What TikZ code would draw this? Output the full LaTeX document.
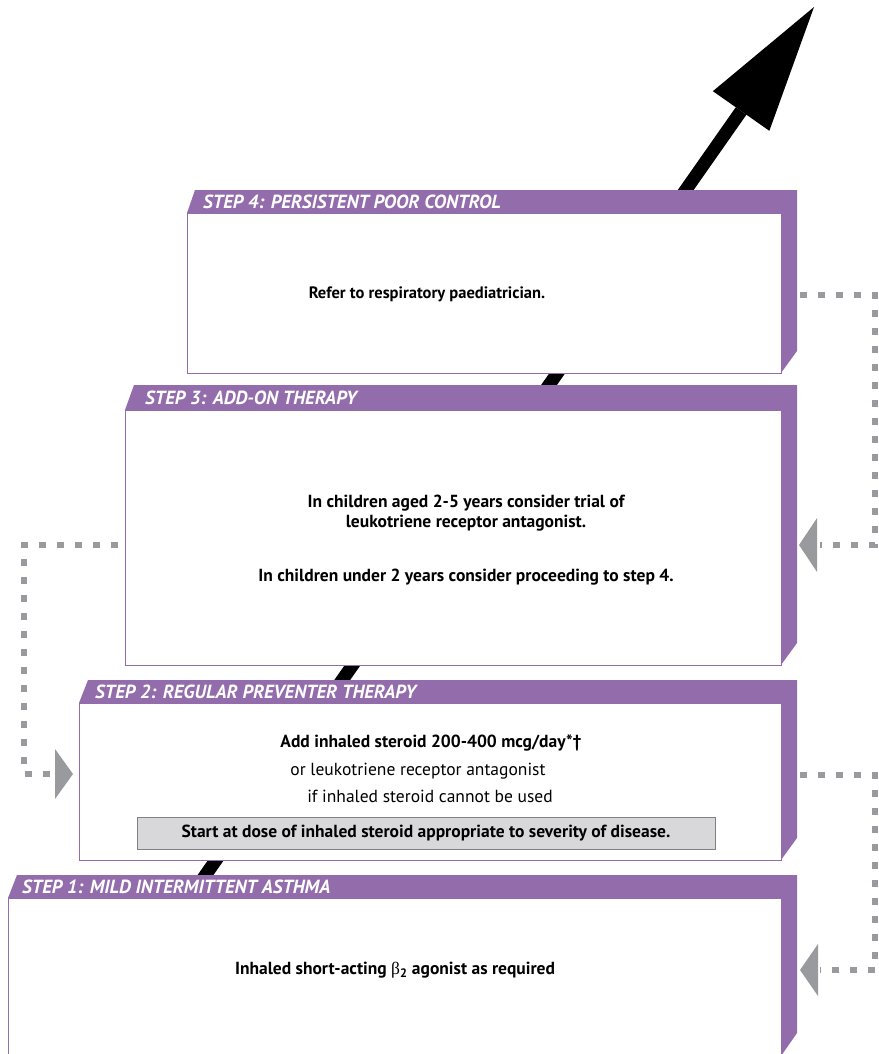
\documentclass[tikz,border=0pt]{standalone}
\usepackage{fontspec}
\setmainfont{PT Sans}
\newfontfamily\greekfont{Liberation Serif}
\usetikzlibrary{arrows.meta}

\definecolor{steppurple}{RGB}{147,108,172}
\definecolor{dotgrey}{RGB}{152,154,157}
\definecolor{notegrey}{RGB}{216,216,218}

\tikzset{
  bodybox/.style={draw=steppurple, line width=1.2pt, fill=white, anchor=north west, inner sep=0pt},
  steplabel/.style={anchor=west, inner sep=0pt, text=white, font=\fontsize{19}{20}\selectfont\bfseries\itshape},
  bodytext/.style={align=center, inner sep=0pt, font=\fontsize{17.5}{20}\selectfont\bfseries},
  plaintext/.style={inner sep=0pt, font=\fontsize{17.5}{20}\selectfont},
  dotline/.style={draw=dotgrey, line width=5.5pt, dash pattern=on 7pt off 11pt},
  dothead/.style={fill=dotgrey},
}

\begin{document}
\begin{tikzpicture}[x=1pt, y=-1pt]
    \useasboundingbox (0,0) rectangle (878,1054);

    % big arrow, behind the steps
    \coordinate (arrowfoot) at (195,890);
    \coordinate (arrowtip) at (814,7);
    \draw[line width=13pt, -{Triangle[length=127pt, width=69pt, line width=0pt]}] (arrowfoot) -- (arrowtip);

    % step 4
    \fill[steppurple] (195,190) -- (797,190) -- (797,351) -- (781,373) -- (781,213) -- (187,213) -- cycle;
    \node[bodybox, minimum width=594pt, minimum height=160pt] (step4) at (187,213) {};
    \node[steplabel] (step4head) at (203,202) {STEP 4: PERSISTENT POOR CONTROL};
    \node[bodytext, font=\fontsize{16.5}{20}\selectfont\bfseries] (step4text) at (427,294) {Refer to respiratory paediatrician.};

    % step 3
    \fill[steppurple] (134,385) -- (797,385) -- (797,643) -- (781,665) -- (781,410) -- (125,410) -- cycle;
    \node[bodybox, minimum width=656pt, minimum height=255pt] (step3) at (125,410) {};
    \node[steplabel] (step3head) at (145,398) {STEP 3: ADD-ON THERAPY};
    \node[bodytext] (step3text) at (466,540) {In children aged 2-5 years consider trial of\\
        leukotriene receptor antagonist.\\[34pt]
        In children under 2 years consider proceeding to step 4.};

    % step 2
    \fill[steppurple] (88,680) -- (797,680) -- (797,838) -- (781,860) -- (781,703) -- (79,703) -- cycle;
    \node[bodybox, minimum width=702pt, minimum height=157pt] (step2) at (79,703) {};
    \node[steplabel] (step2head) at (95,692) {STEP 2: REGULAR PREVENTER THERAPY};
    \node[bodytext] (step2text) at (431,743) {Add inhaled steroid 200-400 mcg/day*\textdagger};
    \node[plaintext] (step2alt) at (418,771) {or leukotriene receptor antagonist};
    \node[plaintext] (step2if) at (430,796) {if inhaled steroid cannot be used};
    \node[draw=gray, fill=notegrey, line width=0.8pt, minimum width=578pt, minimum height=32pt,
          inner sep=0pt, font=\fontsize{17.5}{20}\selectfont\bfseries] (step2note) at (426,833)
          {Start at dose of inhaled steroid appropriate to severity of disease.};

    % step 1
    \fill[steppurple] (17,875) -- (797,875) -- (797,1033) -- (781,1056) -- (781,898) -- (8,898) -- cycle;
    \node[bodybox, minimum width=773pt, minimum height=170pt] (step1) at (8,898) {};
    \node[steplabel] (step1head) at (22,887) {STEP 1: MILD INTERMITTENT ASTHMA};
    \node[bodytext] (step1text) at (395,970) {Inhaled short-acting {\mdseries\greekfont β}\textsubscript{2} agonist as required};

    % step down / step up loops
    \coordinate (down4) at (875,295);
    \coordinate (into3) at (820,545);
    \draw[dotline] (800,295) -- (down4) |- (into3);
    \fill[dothead] (799,545) -- (817,518) -- (817,572) -- cycle;

    \coordinate (down3) at (24,545);
    \coordinate (into2) at (52,774);
    \draw[dotline] (118,545) -- (down3) |- (into2);
    \fill[dothead] (73,774) -- (55,749) -- (55,799) -- cycle;

    \coordinate (down2) at (875,775);
    \coordinate (into1) at (820,970);
    \draw[dotline] (800,775) -- (down2) |- (into1);
    \fill[dothead] (800,970) -- (818,944) -- (818,996) -- cycle;
\end{tikzpicture}
\end{document}
